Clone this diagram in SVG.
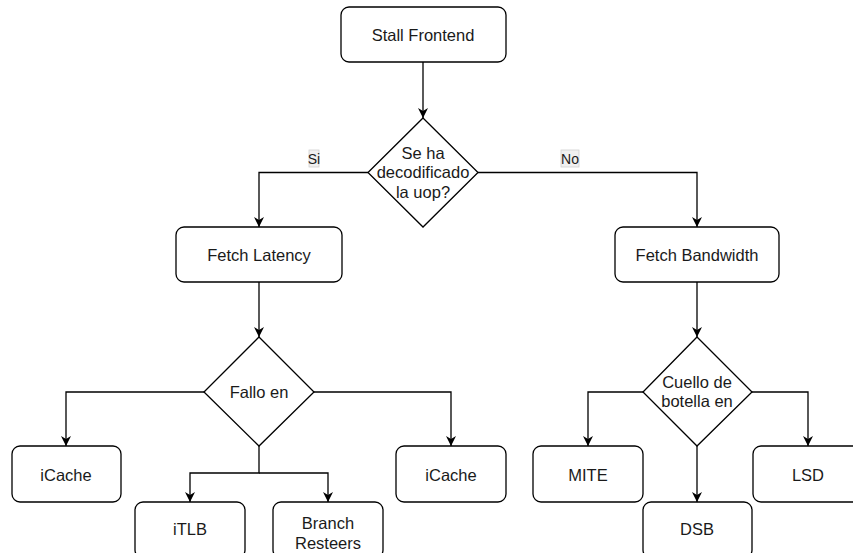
<svg xmlns="http://www.w3.org/2000/svg" width="853" height="553" viewBox="0 0 853 553">
  <defs>
    <marker id="arrow" viewBox="0 0 10 10" refX="10" refY="5" markerWidth="10" markerHeight="10" markerUnits="userSpaceOnUse" orient="auto">
      <path d="M0,0 L10,5 L0,10 L3,5 z" fill="#000"/>
    </marker>
    <style>
      .box { fill: #fff; stroke: #000; stroke-width: 1.3; }
      .lbl { font-family: "Liberation Sans", Arial, sans-serif; font-size: 16.5px; fill: #1a1a1a; text-anchor: middle; }
      .edge { fill: none; stroke: #000; stroke-width: 1.3; }
      .tag { fill: #f0f0f0; stroke: #d0d0d0; stroke-width: 0.8; }
      .tagtxt { font-family: "Liberation Sans", Arial, sans-serif; font-size: 14px; fill: #1a1a1a; text-anchor: middle; }
    </style>
  </defs>
  <rect width="853" height="553" fill="#fff"/>

  <!-- connectors -->
  <g id="connectors">
    <path class="edge" d="M423,62 L423,118" marker-end="url(#arrow)"/>
    <path class="edge" d="M368,172.5 L259,172.5 L259,227" marker-end="url(#arrow)"/>
    <path class="edge" d="M478,172.5 L697,172.5 L697,227" marker-end="url(#arrow)"/>
    <path class="edge" d="M259,282 L259,337" marker-end="url(#arrow)"/>
    <path class="edge" d="M697,282 L697,337" marker-end="url(#arrow)"/>
    <path class="edge" d="M204,392 L66,392 L66,446" marker-end="url(#arrow)"/>
    <path class="edge" d="M314,392 L451,392 L451,446" marker-end="url(#arrow)"/>
    <path class="edge" d="M259,446 L259,473 L190,473 L190,502" marker-end="url(#arrow)"/>
    <path class="edge" d="M259,473 L328,473 L328,502" marker-end="url(#arrow)"/>
    <path class="edge" d="M643,392 L588,392 L588,446" marker-end="url(#arrow)"/>
    <path class="edge" d="M752,392 L808,392 L808,446" marker-end="url(#arrow)"/>
    <path class="edge" d="M697,446 L697,502" marker-end="url(#arrow)"/>
    <!-- branch labels -->
    <rect class="tag" x="309" y="150" width="10" height="17"/>
    <text class="tagtxt" x="314" y="164">Si</text>
    <rect class="tag" x="561" y="150" width="18" height="17"/>
    <text class="tagtxt" x="570" y="164">No</text>
  </g>

  <g id="stall-frontend">
    <rect class="box" x="341" y="7" width="165" height="55" rx="8"/>
    <text class="lbl" x="423" y="41">Stall Frontend</text>
  </g>

  <g id="decoded-uop">
    <path class="box" d="M423,118 L478,172.5 L423,227 L368,172.5 z"/>
    <text class="lbl" x="423" y="158.5">Se ha</text>
    <text class="lbl" x="423" y="178">decodificado</text>
    <text class="lbl" x="423" y="197.5">la uop?</text>
  </g>

  <g id="fetch-latency">
    <rect class="box" x="176" y="227" width="166" height="55" rx="8"/>
    <text class="lbl" x="259" y="261">Fetch Latency</text>
  </g>

  <g id="fetch-bandwidth">
    <rect class="box" x="615" y="227" width="164" height="55" rx="8"/>
    <text class="lbl" x="697" y="261">Fetch Bandwidth</text>
  </g>

  <g id="fallo-en">
    <path class="box" d="M259,337 L314,392 L259,446 L204,392 z"/>
    <text class="lbl" x="259" y="397.5">Fallo en</text>
  </g>

  <g id="cuello-botella">
    <path class="box" d="M697,337 L752,392 L697,446 L643,392 z"/>
    <text class="lbl" x="697" y="387.5">Cuello de</text>
    <text class="lbl" x="697" y="407">botella en</text>
  </g>

  <g id="icache-left">
    <rect class="box" x="12" y="446" width="109" height="56" rx="8"/>
    <text class="lbl" x="66" y="480.5">iCache</text>
  </g>

  <g id="itlb">
    <rect class="box" x="135" y="502" width="110" height="56" rx="8"/>
    <text class="lbl" x="190" y="535">iTLB</text>
  </g>

  <g id="branch-resteers">
    <rect class="box" x="273" y="502" width="110" height="56" rx="8"/>
    <text class="lbl" x="328" y="529">Branch</text>
    <text class="lbl" x="328" y="549">Resteers</text>
  </g>

  <g id="icache-right">
    <rect class="box" x="396" y="446" width="110" height="56" rx="8"/>
    <text class="lbl" x="451" y="480.5">iCache</text>
  </g>

  <g id="mite">
    <rect class="box" x="533" y="446" width="110" height="56" rx="8"/>
    <text class="lbl" x="588" y="480.5">MITE</text>
  </g>

  <g id="dsb">
    <rect class="box" x="643" y="502" width="109" height="56" rx="8"/>
    <text class="lbl" x="697" y="535">DSB</text>
  </g>

  <g id="lsd">
    <rect class="box" x="753" y="446" width="110" height="56" rx="8"/>
    <text class="lbl" x="808" y="480.5">LSD</text>
  </g>
</svg>
